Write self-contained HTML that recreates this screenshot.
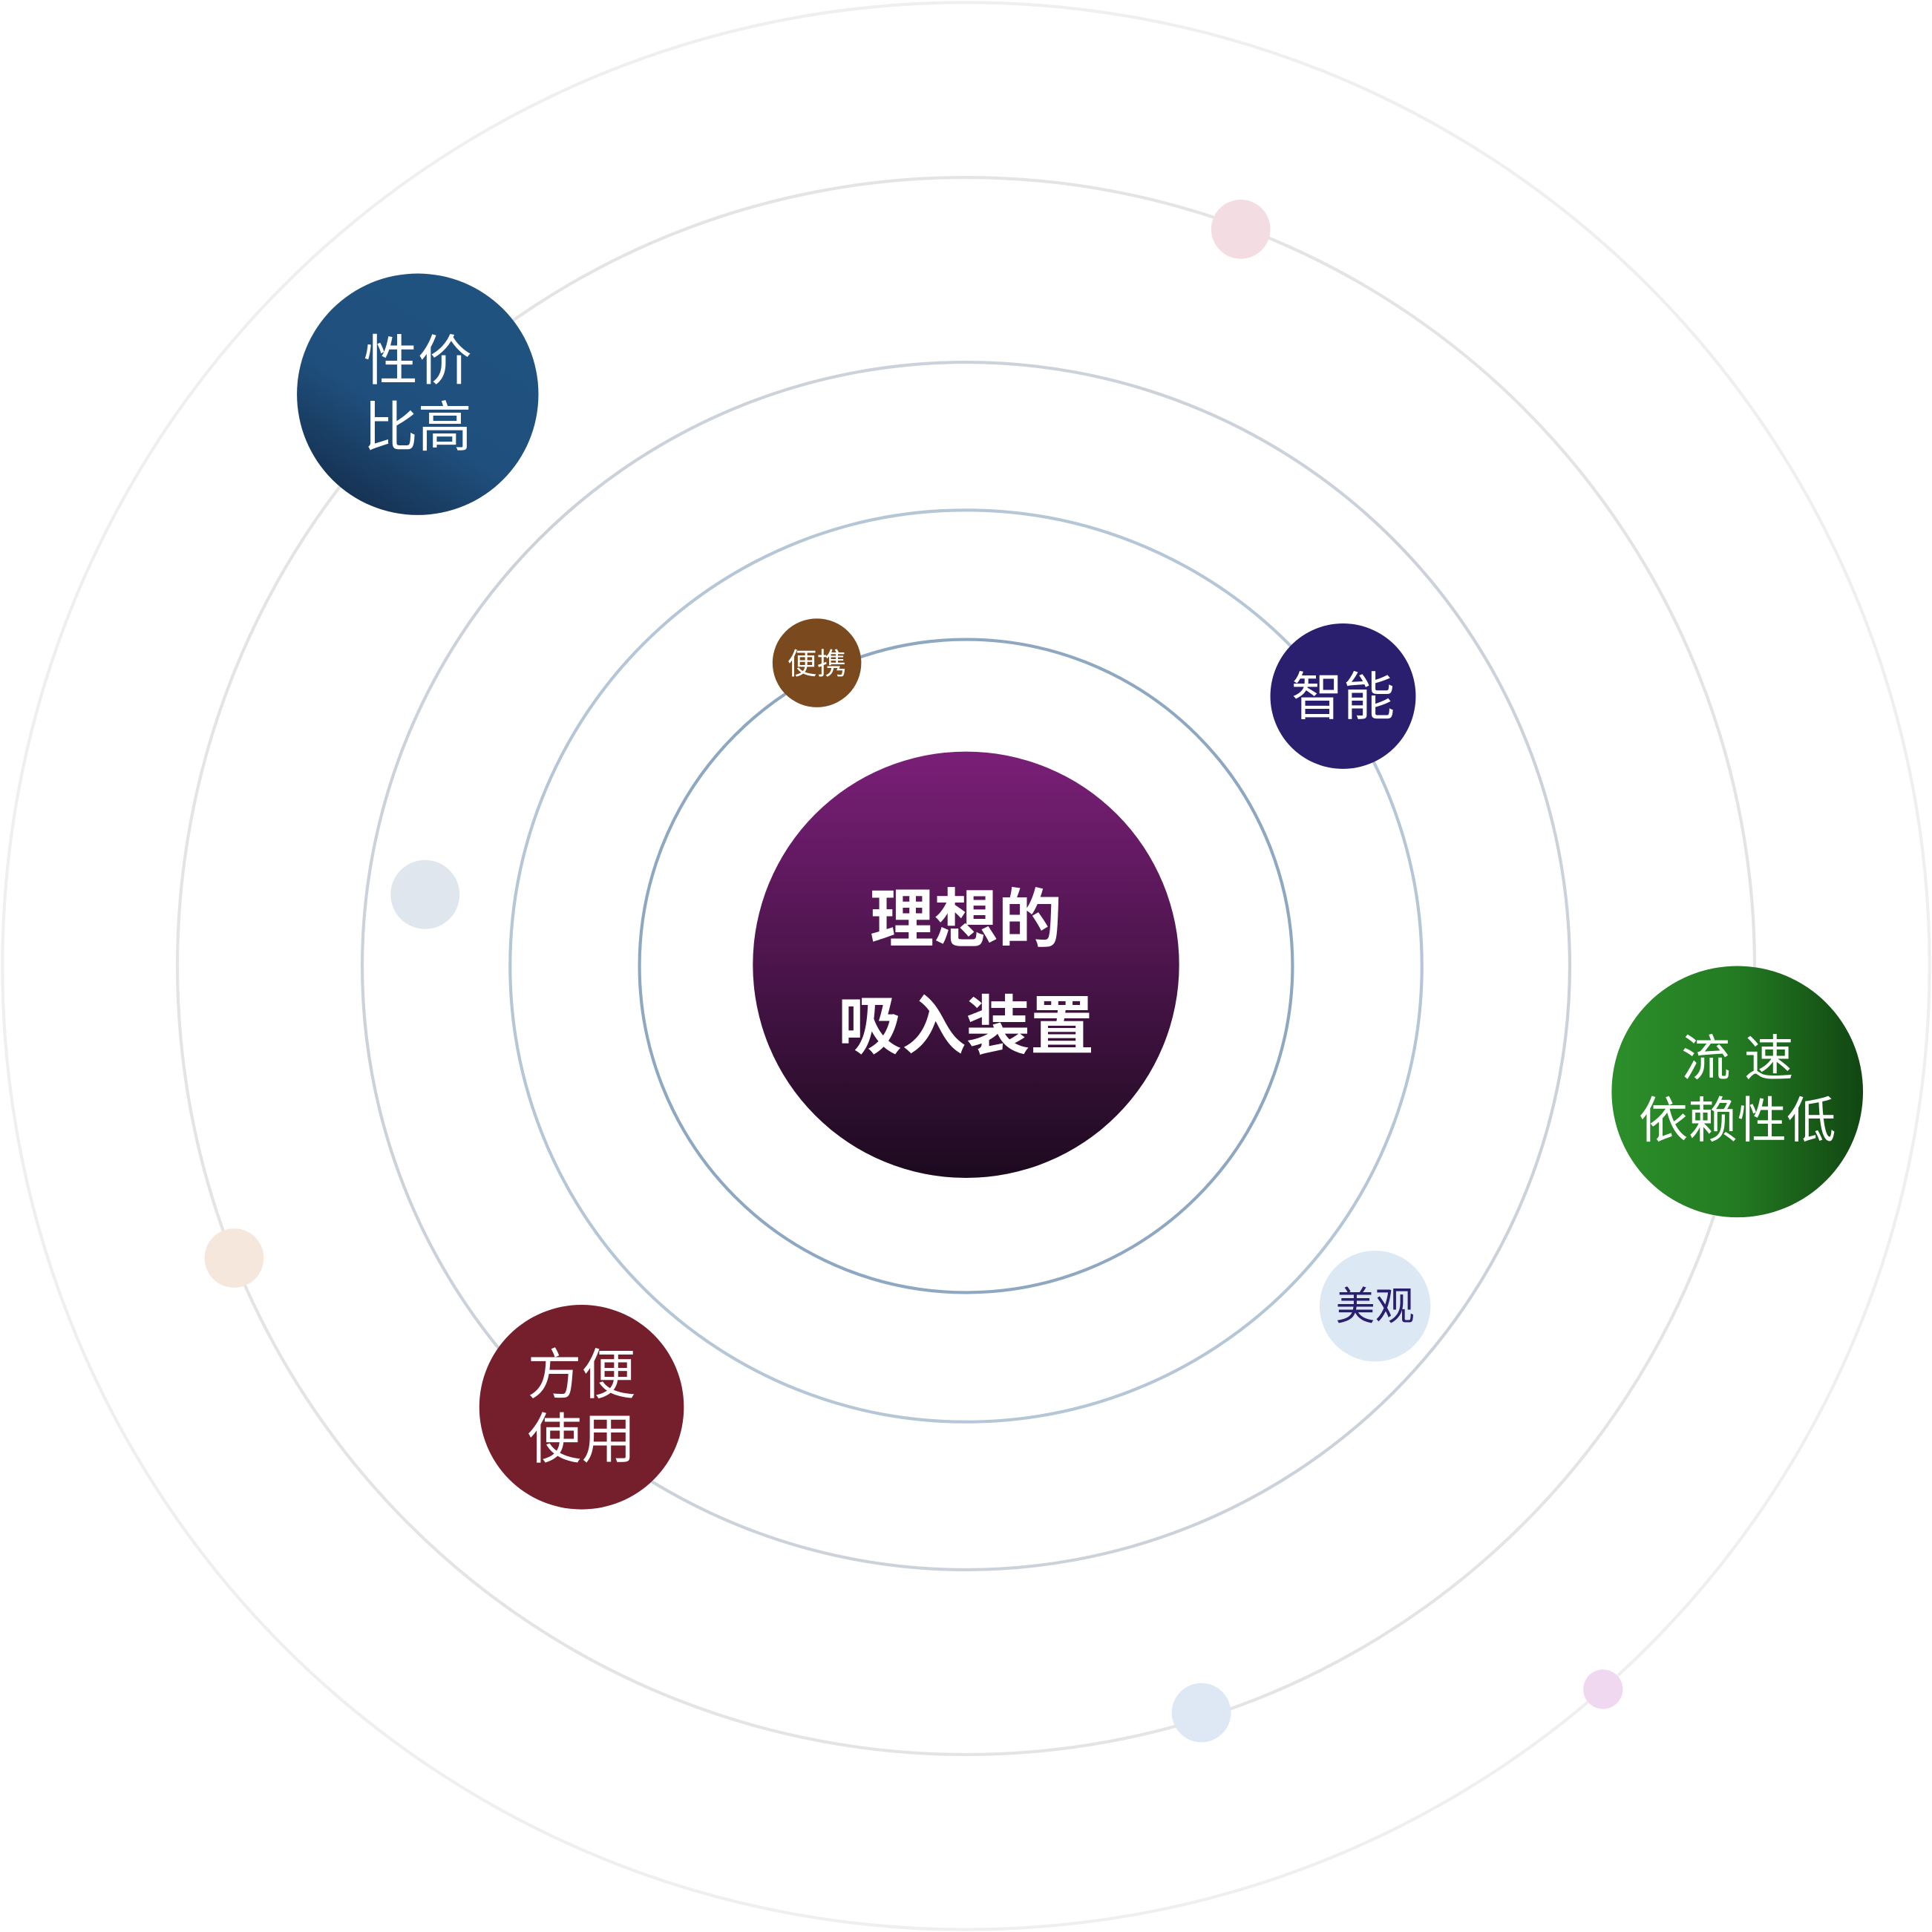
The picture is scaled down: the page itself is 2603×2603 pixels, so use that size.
<!DOCTYPE html>
<html><head><meta charset="utf-8"><style>
html,body{margin:0;padding:0;background:#fff}
svg{display:block}
text{font-family:"Liberation Sans","Noto Sans CJK SC",sans-serif;text-anchor:middle}
</style></head><body>
<svg width="2603" height="2603" viewBox="0 0 1568 1568" xmlns="http://www.w3.org/2000/svg">
<defs>
<linearGradient id="gc" x1="0" y1="0" x2="0" y2="1"><stop offset="0" stop-color="#7a1f78"/><stop offset="1" stop-color="#1c0a1e"/></linearGradient>
<linearGradient id="gb" x1="0.7" y1="0.2" x2="0.2" y2="1"><stop offset="0" stop-color="#20527f"/><stop offset="0.5" stop-color="#1f4f7d"/><stop offset="1" stop-color="#142d4b"/></linearGradient>
<linearGradient id="gg" x1="0" y1="0" x2="1" y2="0"><stop offset="0" stop-color="#2c8f2a"/><stop offset="0.5" stop-color="#237a22"/><stop offset="1" stop-color="#114612"/></linearGradient>
</defs>
<g fill="none">
<circle cx="784" cy="784" r="782" stroke="#efefef" stroke-width="2.5"/>
<circle cx="784" cy="784" r="640" stroke="#e4e4e4" stroke-width="2.5"/>
<circle cx="784" cy="784" r="490" stroke="#ccd2da" stroke-width="2.5"/>
<circle cx="784" cy="784" r="370" stroke="#b5c6d6" stroke-width="2.5"/>
<circle cx="784" cy="784" r="265" stroke="#8fa8c2" stroke-width="2.5"/>
</g>
<circle cx="1007" cy="186" r="24" fill="#f4dde2"/>
<circle cx="345" cy="726" r="28" fill="#dfe6ee"/>
<circle cx="190" cy="1021" r="24" fill="#f5e7dc"/>
<circle cx="975" cy="1390" r="24" fill="#dde8f4"/>
<circle cx="1301" cy="1371" r="16" fill="#f1d8f1"/>

<circle cx="784" cy="783" r="173" fill="url(#gc)"/>
<text x="784" y="764" font-size="52" font-weight="bold" fill="#fff">理想的</text>
<text x="784" y="851" font-size="52" font-weight="bold" fill="#fff">吸入装置</text>

<circle cx="339" cy="320" r="98" fill="url(#gb)"/>
<text x="339" y="308" font-size="44" fill="#fff">性价</text>
<text x="339" y="362" font-size="44" fill="#fff">比高</text>

<circle cx="663" cy="538" r="36" fill="#7a4a1e"/>
<text x="663" y="547" font-size="24" fill="#fff">便携</text>

<circle cx="1090" cy="565" r="59" fill="#291f6e"/>
<text x="1090" y="580" font-size="42" fill="#fff">智能</text>

<circle cx="1410" cy="886" r="102" fill="url(#gg)"/>
<text x="1410" y="873" font-size="40" fill="#fff">流 速</text>
<text x="1410" y="923" font-size="40" fill="#fff">依赖性低</text>

<circle cx="1116" cy="1060" r="45" fill="#dde8f5"/>
<text x="1116" y="1071" font-size="32" fill="#2a1f6e">美观</text>

<circle cx="472" cy="1142" r="83" fill="#761f2c"/>
<text x="472" y="1131" font-size="44" fill="#fff">方便</text>
<text x="472" y="1183" font-size="44" fill="#fff">使用</text>
</svg>
</body></html>
